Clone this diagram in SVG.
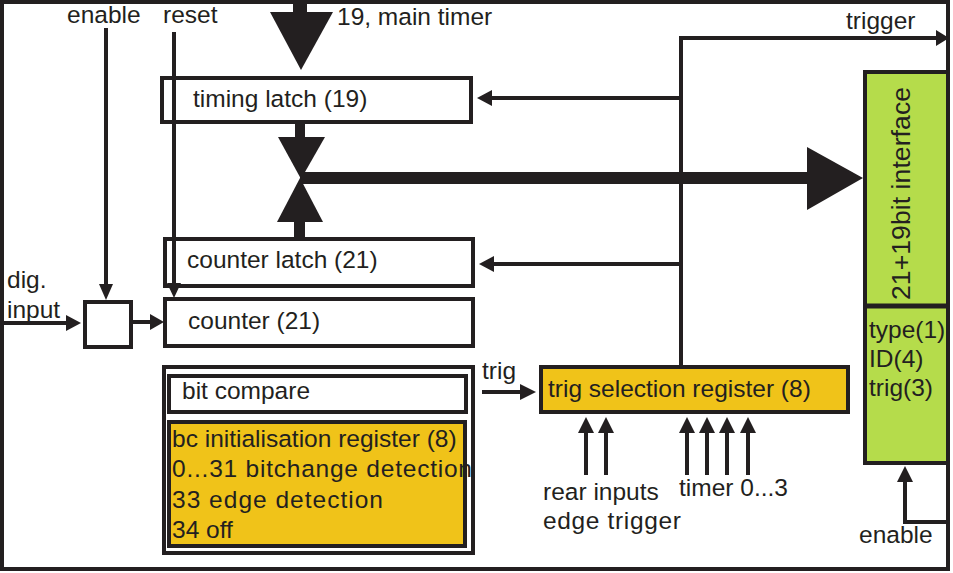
<svg xmlns="http://www.w3.org/2000/svg" width="953" height="573" viewBox="0 0 953 573">
<style>
text{font-family:"Liberation Sans",Arial,sans-serif;font-size:24.5px;fill:#231f20}
.box{fill:none;stroke:#231f20;stroke-width:4}
.yel{fill:#f0c319;stroke:#231f20;stroke-width:4}
.grn{fill:#b5dc4b;stroke:#231f20;stroke-width:4}
.ln{stroke:#231f20;stroke-width:4;fill:none}
.ah{fill:#231f20}
</style>
<rect width="953" height="573" fill="#fff"/>
<rect id="frame" x="2" y="2" width="946" height="567" class="box"/>

<g id="connectors">
  <!-- enable / reset -->
  <line x1="106" y1="28" x2="106" y2="286" class="ln"/>
  <polygon points="99,284 113,284 106,300" class="ah"/>
  <line x1="174" y1="32" x2="174" y2="284" class="ln"/>
  <polygon points="167,283 181,283 174,298" class="ah"/>
  <!-- dig input -->
  <line x1="3" y1="323" x2="68" y2="323" class="ln"/>
  <polygon points="66,315 66,331 81,323" class="ah"/>
  <line x1="131" y1="322" x2="152" y2="322" class="ln"/>
  <polygon points="150,314 150,330 164,322" class="ah"/>
  <!-- main timer -->
  <rect x="293" y="0" width="14" height="14" class="ah"/>
  <polygon points="270,12 333,12 301,70" class="ah"/>
  <!-- latch bus -->
  <rect x="295" y="121" width="10" height="18" class="ah"/>
  <polygon points="278,137 325,137 301,179" class="ah"/>
  <rect x="300" y="172" width="510" height="12" class="ah"/>
  <polygon points="807,147 807,210 863,178" class="ah"/>
  <polygon points="277,222 323,222 300,178" class="ah"/>
  <rect x="294" y="220" width="11" height="19" class="ah"/>
  <!-- trigger -->
  <polyline points="681,366 681,38 938,38" class="ln"/>
  <polygon points="936,30 936,46 949,38" class="ah"/>
  <line x1="681" y1="98" x2="490" y2="98" class="ln"/>
  <polygon points="492,90 492,106 477,98" class="ah"/>
  <line x1="681" y1="264" x2="492" y2="264" class="ln"/>
  <polygon points="494,256 494,272 479,264" class="ah"/>
  <!-- trig -->
  <line x1="482" y1="392" x2="522" y2="392" class="ln"/>
  <polygon points="520,384 520,400 536,392" class="ah"/>
  <!-- up arrows -->
  <g class="ln">
    <line x1="586" y1="430" x2="586" y2="475"/>
    <line x1="606" y1="430" x2="606" y2="475"/>
    <line x1="687" y1="430" x2="687" y2="475"/>
    <line x1="707" y1="430" x2="707" y2="475"/>
    <line x1="727" y1="430" x2="727" y2="475"/>
    <line x1="748" y1="430" x2="748" y2="475"/>
  </g>
  <g class="ah">
    <polygon points="578,433 594,433 586,417"/>
    <polygon points="598,433 614,433 606,417"/>
    <polygon points="679,433 695,433 687,417"/>
    <polygon points="699,433 715,433 707,417"/>
    <polygon points="719,433 735,433 727,417"/>
    <polygon points="740,433 756,433 748,417"/>
  </g>
  <!-- bottom enable -->
  <polyline points="905,480 905,522 948,522" class="ln"/>
  <polygon points="897,482 913,482 905,466" class="ah"/>
</g>

<g id="labels">
  <text x="67" y="23">enable</text>
  <text x="163" y="23">reset</text>
  <text x="337" y="25">19, main timer</text>
  <text x="846" y="29">trigger</text>
  <text x="7" y="288">dig.</text>
  <text x="7" y="318">input</text>
  <text x="482" y="379">trig</text>
  <text x="543" y="500">rear inputs</text>
  <text x="543" y="529" textLength="138">edge trigger</text>
  <text x="679" y="496">timer 0...3</text>
  <text x="859" y="543">enable</text>
</g>

<g id="gate"><rect x="85" y="302" width="46" height="45" class="box"/></g>

<g id="timing-latch">
  <rect x="162" y="78" width="309" height="44" class="box"/>
  <text x="193" y="107">timing latch (19)</text>
</g>
<g id="counter-latch">
  <rect x="165" y="239" width="308" height="47" class="box"/>
  <text x="187" y="268">counter latch (21)</text>
</g>
<g id="counter">
  <rect x="165" y="299" width="308" height="47" class="box"/>
  <text x="188" y="329">counter (21)</text>
</g>
<g id="bit-compare">
  <rect x="164" y="367" width="309" height="186" class="box"/>
  <rect x="169" y="376" width="297" height="36" class="box"/>
  <text x="182" y="399">bit compare</text>
  <rect x="169" y="422" width="296" height="124" class="yel"/>
  <text x="172" y="447">bc initialisation register (8)</text>
  <text x="172" y="477" textLength="300">0...31 bitchange detection</text>
  <text x="172" y="508" textLength="211">33 edge detection</text>
  <text x="172" y="538">34 off</text>
</g>
<g id="trig-selection">
  <rect x="541" y="367" width="307" height="45" class="yel"/>
  <text x="548" y="397">trig selection register (8)</text>
</g>
<g id="interface">
  <rect x="865" y="72" width="83" height="391" class="grn"/>
  <line x1="865" y1="306" x2="948" y2="306" stroke="#231f20" stroke-width="5"/>
  <text transform="translate(910,300) rotate(-90)" style="font-size:26.5px" textLength="213">21+19bit interface</text>
  <text x="869" y="338">type(1)</text>
  <text x="869" y="367">ID(4)</text>
  <text x="869" y="396">trig(3)</text>
</g>
</svg>
